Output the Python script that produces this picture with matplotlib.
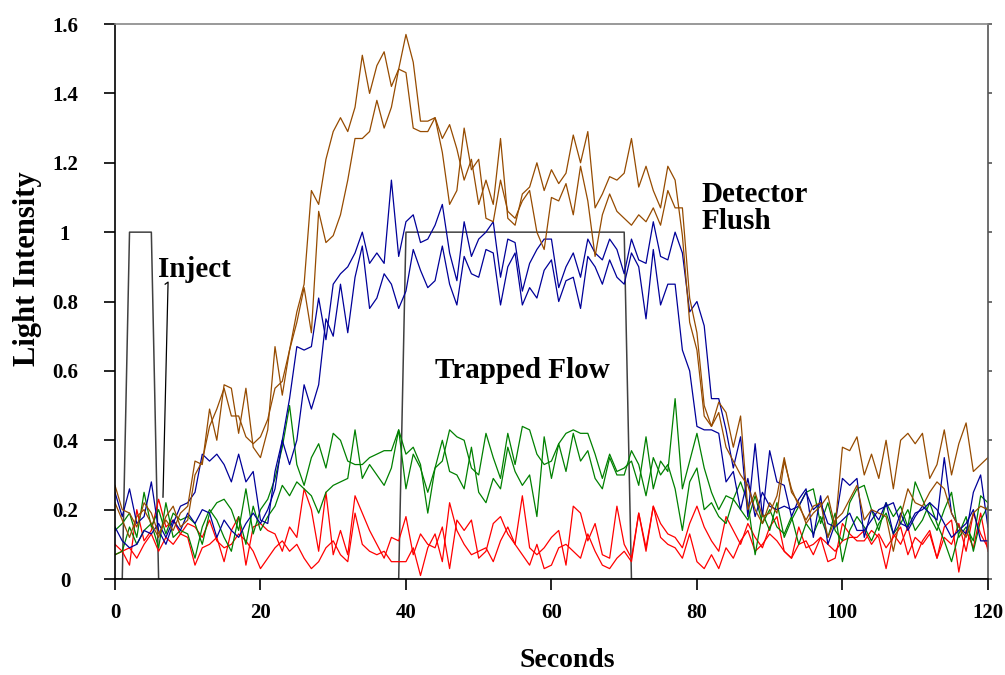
import numpy as np
import matplotlib
matplotlib.use("Agg")
import matplotlib.pyplot as plt

# seconds, one sample per second
seconds = np.arange(0, 121)

brown_a = [0.27, 0.20, 0.19, 0.15, 0.22, 0.19, 0.13, 0.17, 0.14, 0.19,
           0.21, 0.34, 0.33, 0.49, 0.40, 0.56, 0.55, 0.42, 0.55, 0.38,
           0.35, 0.43, 0.67, 0.53, 0.66, 0.77, 0.85, 1.12, 1.08, 1.21,
           1.29, 1.33, 1.29, 1.36, 1.51, 1.40, 1.48, 1.52, 1.42, 1.47,
           1.57, 1.49, 1.32, 1.32, 1.33, 1.23, 1.08, 1.12, 1.30, 1.18,
           1.21, 1.04, 1.03, 1.15, 1.06, 1.04, 1.09, 1.12, 1.00, 0.95,
           1.10, 1.09, 1.14, 1.05, 1.19, 1.09, 0.93, 1.05, 1.11, 1.06,
           1.04, 1.02, 1.05, 1.03, 1.07, 1.02, 1.12, 1.07, 1.07, 0.81,
           0.71, 0.50, 0.44, 0.51, 0.48, 0.38, 0.47, 0.20, 0.25, 0.18,
           0.19, 0.24, 0.35, 0.25, 0.22, 0.16, 0.19, 0.21, 0.24, 0.15,
           0.38, 0.37, 0.41, 0.30, 0.36, 0.29, 0.40, 0.26, 0.40, 0.42,
           0.39, 0.42, 0.29, 0.33, 0.43, 0.30, 0.39, 0.45, 0.31, 0.33, 0.35]

brown_b = [0.22, 0.17, 0.12, 0.18, 0.20, 0.16, 0.12, 0.18, 0.21, 0.15,
           0.17, 0.30, 0.34, 0.44, 0.49, 0.55, 0.47, 0.47, 0.41, 0.39,
           0.41, 0.46, 0.55, 0.57, 0.66, 0.74, 0.84, 0.71, 1.06, 0.97,
           0.99, 1.05, 1.15, 1.27, 1.27, 1.29, 1.38, 1.30, 1.36, 1.47,
           1.46, 1.30, 1.29, 1.29, 1.33, 1.27, 1.31, 1.24, 1.15, 1.21,
           1.08, 1.15, 1.08, 1.27, 1.04, 1.02, 1.11, 1.13, 1.20, 1.12,
           1.18, 1.14, 1.17, 1.28, 1.20, 1.29, 1.07, 1.11, 1.16, 1.15,
           1.17, 1.27, 1.13, 1.19, 1.12, 1.07, 1.19, 1.15, 0.99, 0.74,
           0.66, 0.47, 0.44, 0.48, 0.38, 0.34, 0.30, 0.27, 0.20, 0.16,
           0.22, 0.19, 0.34, 0.26, 0.21, 0.17, 0.21, 0.22, 0.12, 0.17,
           0.19, 0.23, 0.27, 0.17, 0.20, 0.19, 0.18, 0.08, 0.18, 0.26,
           0.22, 0.21, 0.25, 0.28, 0.26, 0.19, 0.15, 0.12, 0.19, 0.21, 0.20]

blue_a = [0.25, 0.18, 0.26, 0.16, 0.18, 0.28, 0.14, 0.10, 0.16, 0.21,
          0.22, 0.25, 0.36, 0.34, 0.36, 0.33, 0.28, 0.36, 0.28, 0.31,
          0.17, 0.16, 0.31, 0.40, 0.52, 0.67, 0.66, 0.67, 0.81, 0.69,
          0.85, 0.88, 0.90, 0.94, 1.00, 0.91, 0.94, 0.91, 1.15, 0.93,
          1.03, 1.05, 0.97, 0.98, 1.02, 1.08, 0.94, 0.86, 1.03, 0.93,
          0.98, 1.00, 1.03, 0.87, 0.98, 0.97, 0.83, 0.91, 0.95, 0.98,
          0.98, 0.84, 0.90, 0.94, 0.87, 0.98, 0.94, 0.92, 0.98, 0.95,
          0.88, 0.98, 0.92, 0.91, 1.03, 0.93, 0.92, 1.00, 0.94, 0.77,
          0.80, 0.73, 0.52, 0.52, 0.43, 0.32, 0.41, 0.18, 0.39, 0.18,
          0.37, 0.28, 0.27, 0.18, 0.23, 0.26, 0.12, 0.24, 0.10, 0.16,
          0.29, 0.27, 0.29, 0.12, 0.20, 0.17, 0.22, 0.13, 0.19, 0.14,
          0.18, 0.21, 0.19, 0.17, 0.35, 0.19, 0.15, 0.13, 0.25, 0.30, 0.15]

blue_b = [0.15, 0.11, 0.09, 0.10, 0.14, 0.13, 0.16, 0.12, 0.17, 0.14,
          0.19, 0.16, 0.20, 0.19, 0.12, 0.17, 0.14, 0.12, 0.16, 0.19,
          0.16, 0.20, 0.26, 0.40, 0.33, 0.40, 0.56, 0.49, 0.56, 0.75,
          0.70, 0.85, 0.71, 0.87, 0.96, 0.78, 0.81, 0.88, 0.85, 0.78,
          0.83, 0.95, 0.89, 0.84, 0.86, 0.96, 0.85, 0.79, 0.93, 0.88,
          0.87, 0.95, 0.94, 0.79, 0.90, 0.94, 0.79, 0.84, 0.81, 0.89,
          0.92, 0.80, 0.86, 0.87, 0.78, 0.93, 0.90, 0.85, 0.92, 0.87,
          0.85, 0.94, 0.90, 0.75, 0.95, 0.79, 0.85, 0.85, 0.66, 0.60,
          0.44, 0.43, 0.43, 0.42, 0.28, 0.31, 0.20, 0.29, 0.18, 0.25,
          0.21, 0.20, 0.21, 0.20, 0.21, 0.25, 0.20, 0.22, 0.16, 0.15,
          0.17, 0.19, 0.14, 0.14, 0.17, 0.20, 0.21, 0.22, 0.16, 0.15,
          0.19, 0.20, 0.22, 0.20, 0.16, 0.12, 0.14, 0.16, 0.20, 0.11, 0.11]

green_a = [0.14, 0.16, 0.19, 0.12, 0.25, 0.15, 0.20, 0.13, 0.19, 0.17,
           0.18, 0.16, 0.10, 0.19, 0.22, 0.23, 0.20, 0.14, 0.26, 0.13,
           0.20, 0.23, 0.29, 0.38, 0.50, 0.33, 0.27, 0.35, 0.39, 0.32,
           0.42, 0.40, 0.34, 0.33, 0.33, 0.35, 0.36, 0.37, 0.37, 0.43,
           0.36, 0.38, 0.33, 0.19, 0.32, 0.34, 0.43, 0.41, 0.40, 0.32,
           0.30, 0.42, 0.35, 0.29, 0.42, 0.33, 0.44, 0.43, 0.36, 0.33,
           0.34, 0.39, 0.42, 0.43, 0.42, 0.42, 0.36, 0.29, 0.36, 0.31,
           0.32, 0.34, 0.27, 0.41, 0.26, 0.34, 0.31, 0.52, 0.26, 0.34,
           0.42, 0.32, 0.25, 0.20, 0.24, 0.23, 0.28, 0.22, 0.07, 0.19,
           0.14, 0.22, 0.12, 0.17, 0.21, 0.25, 0.26, 0.16, 0.22, 0.14,
           0.11, 0.22, 0.26, 0.27, 0.20, 0.14, 0.22, 0.18, 0.21, 0.15,
           0.28, 0.23, 0.18, 0.14, 0.20, 0.25, 0.12, 0.15, 0.11, 0.24, 0.22]

green_b = [0.07, 0.08, 0.15, 0.10, 0.14, 0.16, 0.09, 0.22, 0.12, 0.14,
           0.13, 0.06, 0.15, 0.20, 0.17, 0.12, 0.08, 0.18, 0.10, 0.21,
           0.14, 0.18, 0.21, 0.27, 0.24, 0.28, 0.26, 0.24, 0.19, 0.25,
           0.27, 0.28, 0.29, 0.43, 0.29, 0.33, 0.30, 0.27, 0.32, 0.43,
           0.26, 0.36, 0.32, 0.25, 0.32, 0.40, 0.31, 0.30, 0.26, 0.38,
           0.25, 0.22, 0.29, 0.26, 0.38, 0.31, 0.27, 0.30, 0.18, 0.41,
           0.29, 0.39, 0.31, 0.42, 0.34, 0.37, 0.29, 0.26, 0.35, 0.30,
           0.30, 0.37, 0.33, 0.24, 0.35, 0.30, 0.33, 0.26, 0.14, 0.28,
           0.32, 0.20, 0.22, 0.18, 0.16, 0.23, 0.20, 0.17, 0.24, 0.16,
           0.20, 0.15, 0.13, 0.18, 0.10, 0.16, 0.13, 0.18, 0.12, 0.19,
           0.05, 0.14, 0.18, 0.15, 0.11, 0.16, 0.19, 0.13, 0.16, 0.20,
           0.14, 0.17, 0.22, 0.16, 0.11, 0.05, 0.13, 0.18, 0.08, 0.17, 0.21]

red_a = [0.10, 0.08, 0.04, 0.20, 0.11, 0.14, 0.23, 0.15, 0.17, 0.13,
         0.12, 0.04, 0.09, 0.10, 0.12, 0.05, 0.14, 0.18, 0.04, 0.15,
         0.16, 0.14, 0.13, 0.08, 0.15, 0.12, 0.26, 0.20, 0.08, 0.25,
         0.07, 0.14, 0.07, 0.24, 0.19, 0.14, 0.10, 0.06, 0.12, 0.11,
         0.18, 0.07, 0.13, 0.10, 0.09, 0.15, 0.03, 0.17, 0.14, 0.17,
         0.06, 0.08, 0.16, 0.18, 0.13, 0.10, 0.24, 0.09, 0.07, 0.09,
         0.12, 0.14, 0.04, 0.21, 0.19, 0.11, 0.16, 0.07, 0.06, 0.21,
         0.10, 0.06, 0.19, 0.08, 0.21, 0.16, 0.13, 0.12, 0.09, 0.16,
         0.21, 0.15, 0.11, 0.08, 0.18, 0.14, 0.10, 0.16, 0.12, 0.09,
         0.15, 0.18, 0.08, 0.06, 0.15, 0.09, 0.10, 0.12, 0.05, 0.06,
         0.16, 0.13, 0.11, 0.11, 0.14, 0.12, 0.03, 0.13, 0.10, 0.15,
         0.06, 0.11, 0.14, 0.06, 0.15, 0.17, 0.02, 0.14, 0.09, 0.19, 0.08]

red_b = [0.07, 0.08, 0.09, 0.06, 0.10, 0.13, 0.08, 0.12, 0.10, 0.13,
         0.16, 0.15, 0.12, 0.17, 0.11, 0.09, 0.10, 0.13, 0.11, 0.08,
         0.03, 0.06, 0.09, 0.11, 0.08, 0.10, 0.06, 0.03, 0.05, 0.09,
         0.11, 0.07, 0.05, 0.19, 0.10, 0.08, 0.07, 0.08, 0.05, 0.05,
         0.05, 0.09, 0.01, 0.09, 0.13, 0.05, 0.22, 0.14, 0.10, 0.07,
         0.08, 0.09, 0.05, 0.11, 0.15, 0.10, 0.07, 0.04, 0.10, 0.03,
         0.04, 0.09, 0.10, 0.08, 0.06, 0.13, 0.08, 0.04, 0.03, 0.06,
         0.08, 0.05, 0.19, 0.09, 0.21, 0.12, 0.10, 0.09, 0.06, 0.13,
         0.05, 0.03, 0.07, 0.03, 0.09, 0.06, 0.11, 0.14, 0.08, 0.10,
         0.13, 0.11, 0.08, 0.06, 0.10, 0.11, 0.07, 0.12, 0.10, 0.08,
         0.11, 0.12, 0.12, 0.14, 0.10, 0.13, 0.09, 0.12, 0.15, 0.07,
         0.12, 0.10, 0.13, 0.06, 0.12, 0.10, 0.16, 0.08, 0.19, 0.13, 0.09]

# valve state (inject pulse, trapped flow window)
valve = np.zeros(121)
valve[2:6] = 1
valve[40:71] = 1

yticks = [0, 0.2, 0.4, 0.6, 0.8, 1.0, 1.2, 1.4, 1.6]
ytick_labels = ['0', '0.2', '0.4', '0.6', '0.8', '1', '1.2', '1.4', '1.6']

plt.rcParams['font.family'] = ['Liberation Serif', 'DejaVu Serif']
plt.rcParams['font.weight'] = 'bold'

fig = plt.figure(figsize=(10.05, 6.75), dpi=100)
ax = fig.add_axes([0.1144, 0.1422, 0.8686, 0.8222])

lw = 0.9
ax.plot(seconds, valve, color='#404040', linewidth=1.1)
ax.plot(seconds, red_a, color='#ff0000', linewidth=lw)
ax.plot(seconds, red_b, color='#ff0000', linewidth=lw)
ax.plot(seconds, green_a, color='#008000', linewidth=lw)
ax.plot(seconds, green_b, color='#008000', linewidth=lw)
ax.plot(seconds, blue_a, color='#000099', linewidth=lw)
ax.plot(seconds, blue_b, color='#000099', linewidth=lw)
ax.plot(seconds, brown_a, color='#964b00', linewidth=lw)
ax.plot(seconds, brown_b, color='#964b00', linewidth=lw)

ax.set_xlim(0, 120)
ax.set_ylim(0, 1.6)
ax.set_xticks(range(0, 121, 20))
ax.set_yticks(yticks)
ax.set_yticklabels(ytick_labels)
ax.tick_params(axis='both', direction='out', length=8, width=1.2, labelsize=15)
ax.tick_params(axis='x', pad=9)
ax.tick_params(axis='y', pad=28)
for lab in ax.get_yticklabels():
    lab.set_horizontalalignment('center')
for s in ax.spines.values():
    s.set_linewidth(1.2)
ax.spines['top'].set_color('#888888')
ax.spines['right'].set_color('#555555')

# short marks on the right frame
right = ax.secondary_yaxis('right')
right.set_yticks(yticks)
right.tick_params(direction='out', length=3, width=1.2, labelright=False, color='#555555')
right.spines['right'].set_visible(False)

ax.set_xlabel('Seconds', fontsize=20, fontweight='bold')
ax.xaxis.set_label_coords(0.518, -0.124)
ax.xaxis.label.set_verticalalignment('top')
ax.set_ylabel('Light Intensity', fontsize=22, fontweight='bold')
ax.yaxis.set_label_coords(-0.084, 0.56)

# annotations
ax.text(5.9, 0.870, 'Inject', fontsize=21, fontweight='bold', ha='left', va='baseline')
ax.plot([6.6, 7.3, 6.9], [0.236, 0.856, 0.85], color='black', linewidth=0.9)
ax.text(44.0, 0.579, 'Trapped Flow', fontsize=21, fontweight='bold', ha='left', va='baseline')
ax.text(80.65, 1.086, 'Detector', fontsize=21, fontweight='bold', ha='left', va='baseline')
ax.text(80.65, 1.009, 'Flush', fontsize=21, fontweight='bold', ha='left', va='baseline')

fig.savefig('out.png', dpi=100)
